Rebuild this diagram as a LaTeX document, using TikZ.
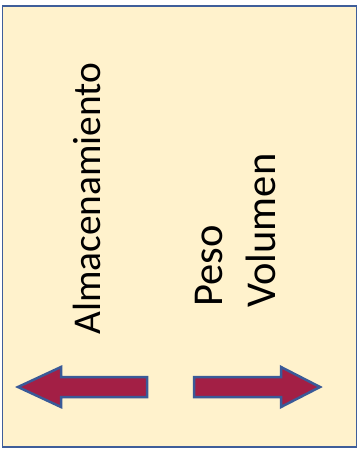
\documentclass[tikz,border=0pt]{standalone}
\usepackage{fontspec}
\setmainfont{Carlito}
\definecolor{panelfill}{HTML}{FFF2CC}
\definecolor{panelline}{HTML}{3F5E9A}
\definecolor{arrowfill}{HTML}{A31F45}
\definecolor{arrowline}{HTML}{3A5A98}
\begin{document}
\begin{tikzpicture}[x=1pt,y=-1pt,
  panel/.style={fill=panelfill,draw=panelline,line width=1.6pt},
  fatarrow/.style={fill=arrowfill,draw=arrowline,line width=2.5pt,line join=miter},
  vlabel/.style={rotate=90,anchor=base west,inner sep=0pt,font=\fontsize{39.4}{47}\selectfont},
  vlabelbig/.style={vlabel,font=\fontsize{42.5}{51}\selectfont}]
\useasboundingbox (0,0) rectangle (359,466);
\draw[panel] (2.5,6) rectangle (356.5,447);
\node[vlabel] (alm) at (100,335) {Almacenamiento};
\node[vlabelbig] (peso) at (222,307) {Peso};
\node[vlabelbig] (vol) at (275,308) {Volumen};
\draw[fatarrow] (18,387) -- (61,367) -- (61,377) -- (147,377) -- (147,397) -- (61,397) -- (61,407) -- cycle;
\draw[fatarrow] (320,387) -- (281,367) -- (281,377) -- (194,377) -- (194,397) -- (281,397) -- (281,407) -- cycle;
\end{tikzpicture}
\end{document}
